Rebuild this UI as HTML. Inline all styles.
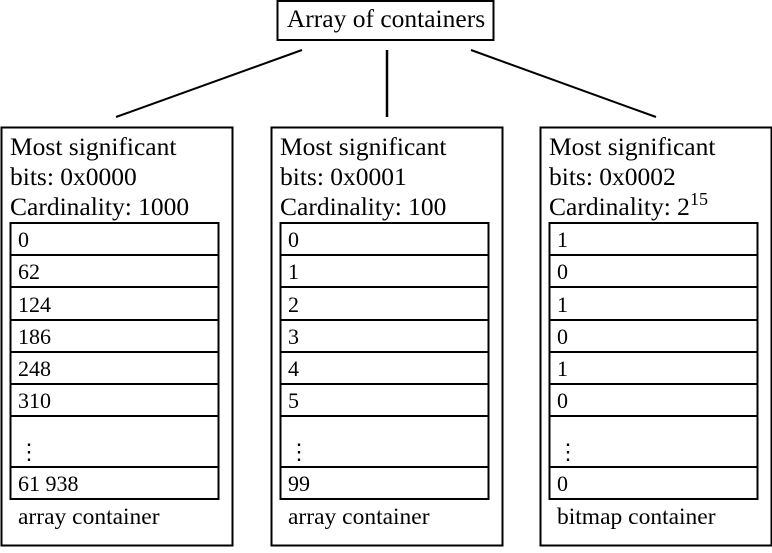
<!DOCTYPE html>
<html><head><meta charset="utf-8"><style>
body{margin:0;background:#fff}
text{font-family:"Liberation Serif",serif;fill:#000}
</style></head><body>
<svg id="d" width="772" height="548" xmlns="http://www.w3.org/2000/svg">
<rect x="277.5" y="1" width="216" height="39" fill="none" stroke="#000" stroke-width="2"/>
<text x="386" y="27" font-size="25.5" text-anchor="middle">Array of containers</text>
<line x1="302" y1="50" x2="116" y2="117" stroke="#000" stroke-width="2"/>
<line x1="387" y1="50" x2="387" y2="117" stroke="#000" stroke-width="2.5"/>
<line x1="471" y1="50" x2="656" y2="117" stroke="#000" stroke-width="2"/>
</svg>
<script>
const boxX=[1,271,540];
const bits=["0x0000","0x0001","0x0002"];
const cards=["1000","100","2"];
const kinds=["array container","array container","bitmap container"];
const values=[["0","62","124","186","248","310","⋮","61 938"],["0","1","2","3","4","5","⋮","99"],["1","0","1","0","1","0","⋮","0"]];
const rowTops=[223,255,287,320,352,384,416,467,499];
const svg=document.getElementById('d');
const NS="http://www.w3.org/2000/svg";
function mk(t,a,txt,p){const e=document.createElementNS(NS,t);for(const k in a)e.setAttribute(k,a[k]);if(txt!==undefined)e.textContent=txt;(p||svg).appendChild(e);return e;}
boxX.forEach((x,i)=>{
  const b=mk('rect',{x:x+0.5,y:127.5,width:231,height:418,fill:'none',stroke:'#000','stroke-width':2});
  
  
  const t1=mk('text',{x:x+9,y:155,'font-size':25.5},'Most significant');
  
  
  const t2=mk('text',{x:x+9,y:185,'font-size':25.5},'bits: '+bits[i]);
  
  
  const t3=mk('text',{x:x+9,y:215,'font-size':25.5},'Cardinality: '+cards[i]);
  
  
  if(i===2){mk('tspan',{'font-size':18,dy:-10},'15',t3);}
  values[i].forEach((v,j)=>{
    const y=rowTops[j],h=rowTops[j+1]-y;
    const r=mk('rect',{x:x+9.5,y:y,width:208,height:h,fill:'none',stroke:'#000','stroke-width':2});
    
    
    const tv=mk('text',{x:x+17,y:y+h-8,'font-size':22},v);
    
    
  });
  const k=mk('text',{x:x+17,y:524,'font-size':23.5},kinds[i]);
  
  
});
</script>
</body></html>
